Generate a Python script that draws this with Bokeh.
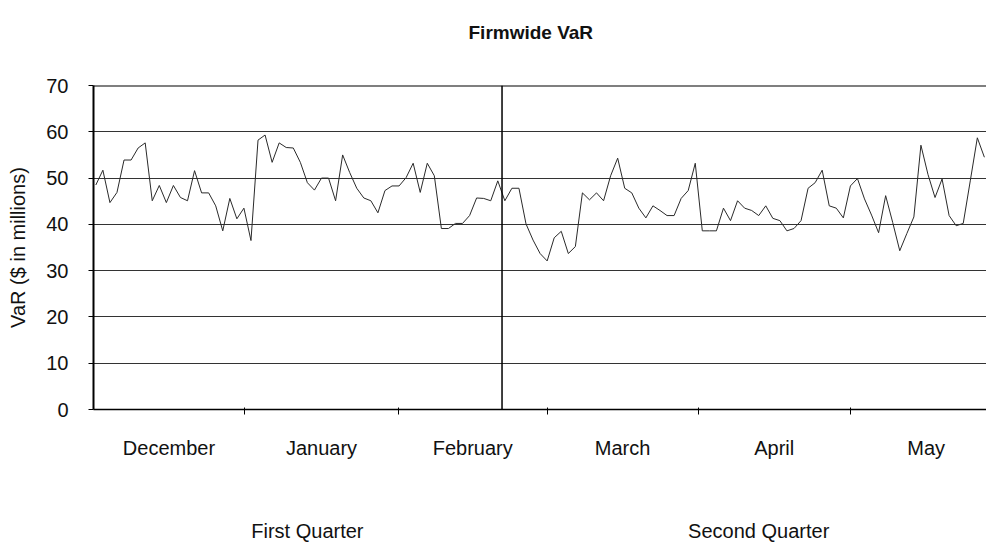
from bokeh.plotting import figure
from bokeh.models import Range1d, FixedTicker, Span, LinearAxis, Title
from bokeh.embed import file_html
from bokeh.resources import INLINE

# ---- data (one value per trading day, $ millions) ----
var_values = [
    48.5, 51.7, 44.7, 46.9, 53.9, 53.9, 56.5, 57.6, 45.1, 48.4,
    44.7, 48.4, 45.8, 45.1, 51.6, 46.8, 46.8, 44.0, 38.6, 45.6,
    41.2, 43.5, 36.5, 58.2, 59.3, 53.4, 57.6, 56.6, 56.5, 53.4,
    49.0, 47.4, 50.0, 50.0, 45.1, 55.0, 51.2, 47.8, 45.7, 45.1,
    42.5, 47.3, 48.3, 48.3, 50.1, 53.2, 46.9, 53.2, 50.5, 39.1,
    39.1, 40.2, 40.2, 41.9, 45.7, 45.6, 45.1, 49.4, 45.1, 47.8,
    47.8, 40.1, 36.6, 33.7, 32.1, 37.1, 38.5, 33.7, 35.2, 46.8,
    45.3, 46.8, 45.1, 50.5, 54.3, 47.8, 46.8, 43.5, 41.4, 44.0,
    43.0, 41.9, 41.9, 45.6, 47.3, 53.2, 38.6, 38.6, 38.6, 43.5,
    40.8, 45.1, 43.5, 43.0, 41.9, 44.0, 41.3, 40.8, 38.6, 39.1,
    40.8, 47.8, 49.0, 51.7, 44.0, 43.5, 41.4, 48.3, 49.9, 45.5,
    42.0, 38.2, 46.2, 40.4, 34.3, 38.0, 41.6, 57.1, 50.8, 45.8,
    49.8, 41.9, 39.7, 40.2, 49.4, 58.7, 54.5,
]
days = list(range(len(var_values)))

months = ["December", "January", "February", "March", "April", "May"]
month_edges = [-0.35, 21.1, 42.9, 64.0, 85.4, 107.0, 128.5]   # trading-day index
quarter_split = 57.6
quarters = ["First Quarter", "Second Quarter"]
quarter_pos = [30.0, 94.0]
y_ticks = [0, 10, 20, 30, 40, 50, 60, 70]

FONT = "Liberation Sans"
TXT = "#111111"

p = figure(width=986, height=544,
           x_range=Range1d(-0.33, 126.3), y_range=Range1d(0, 70),
           output_backend="svg", toolbar_location=None,
           min_border_left=93, min_border_right=0,
           min_border_top=85, min_border_bottom=135)
p.outline_line_color = None
p.background_fill_color = "white"
p.border_fill_color = "white"

# title (with an empty spacer title between it and the frame)
p.title.text = "Firmwide VaR"
p.title.align = "left"
p.title.offset = 375
p.title.standoff = 0
p.title.vertical_align = "bottom"
p.title.text_font = FONT
p.title.text_font_size = "19px"
p.title.text_font_style = "bold"
p.title.text_color = TXT
p.add_layout(Title(text=" ", text_font_size="1px", standoff=40), "above")

# data line
p.line(days, var_values, line_color="#2a2a2a", line_width=1)

# y axis
yax = p.yaxis[0]
yax.ticker = FixedTicker(ticks=y_ticks)
yax.axis_label = "VaR ($ in millions)"
yax.axis_label_text_font = FONT
yax.axis_label_text_font_size = "20px"
yax.axis_label_text_font_style = "normal"
yax.axis_label_text_color = TXT
yax.axis_label_standoff = 14
yax.major_label_text_font = FONT
yax.major_label_text_font_size = "20px"
yax.major_label_text_color = TXT
yax.major_label_standoff = 20
yax.major_tick_out = 5
yax.major_tick_in = 0
yax.minor_tick_line_color = None
yax.axis_line_width = 2
yax.axis_line_color = "black"
yax.major_tick_line_color = "black"

# x axis: month names centred, tick marks at month boundaries
centers = [(month_edges[i] + month_edges[i + 1]) / 2 for i in range(len(months))]
xax = p.xaxis[0]
xax.ticker = FixedTicker(ticks=centers, minor_ticks=month_edges)
xax.major_label_overrides = {c: m for c, m in zip(centers, months)}
xax.major_tick_out = 0
xax.major_tick_in = 0
xax.minor_tick_out = 5
xax.minor_tick_in = 2
xax.minor_tick_line_color = "black"
xax.major_label_text_font = FONT
xax.major_label_text_font_size = "20px"
xax.major_label_text_color = TXT
xax.major_label_standoff = 22
xax.axis_line_width = 1.5
xax.axis_line_color = "black"

# second row below: quarter names
qax = LinearAxis(ticker=FixedTicker(ticks=quarter_pos, minor_ticks=[]),
                 major_label_overrides={q: n for q, n in zip(quarter_pos, quarters)})
qax.axis_line_color = None
qax.major_tick_line_color = None
qax.minor_tick_line_color = None
qax.major_label_text_font = FONT
qax.major_label_text_font_size = "20px"
qax.major_label_text_color = TXT
qax.major_label_standoff = 52
p.add_layout(qax, "below")

# grid
p.xgrid.visible = False
p.ygrid[0].ticker = FixedTicker(ticks=y_ticks)
p.ygrid.grid_line_color = "#333333"
p.ygrid.grid_line_width = 1

# top border and quarter divider
p.add_layout(Span(location=70, dimension="width", line_color="black", line_width=2))
p.add_layout(Span(location=quarter_split, dimension="height", line_color="black", line_width=1.5))

open("out.html", "w").write(file_html(p, INLINE))
